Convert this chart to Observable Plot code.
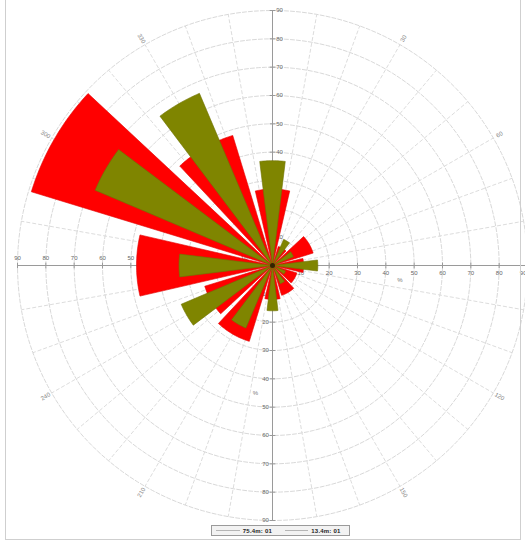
<!DOCTYPE html>
<html>
<head>
<meta charset="utf-8">
<script src="https://cdn.jsdelivr.net/npm/d3@7"></script>
<script src="https://cdn.jsdelivr.net/npm/@observablehq/plot@0.6"></script>
<style>
  body { margin: 0; background: #fff; font-family: "Liberation Sans", Arial, sans-serif; }
  #frame { position: relative; width: 525px; height: 542px; overflow: hidden; }
  #chart { position: absolute; left: 0; top: 0; }
  #border { position: absolute; left: 5px; top: -2px; width: 516px; height: 542px; border: 1px solid #cfcfcf; box-sizing: border-box; pointer-events: none; }
  #legend { position: absolute; left: 211px; top: 525px; width: 139px; height: 11px; border: 1px solid #9a9a9a; background: #f2f2f2; box-sizing: border-box; display: flex; align-items: center; font-size: 6px; color: #222; }
  #legend .sw { display: inline-block; width: 24px; height: 0; border-top: 1px solid #b5b5b5; margin: 0 3px 0 4px; }
  #legend .lb { display: inline-block; width: 38px; font-weight: bold; letter-spacing: 0.2px; }
</style>
</head>
<body>
<div id="frame">
  <div id="chart"></div>
  <div id="border"></div>
  <div id="legend"></div>
</div>
<script>
// Petal directions (degrees clockwise from north), one petal every 30°
const directions = [0, 30, 60, 90, 120, 150, 180, 210, 240, 270, 300, 330];
// Petal lengths for the two data sets
const seriesRed   = [27, 7, 15, 11, 9, 11, 12, 28, 25, 48, 89, 48];
const seriesOlive = [37, 10, 8, 16, 5, 7, 16, 24, 35, 33, 68, 66];
// Radial rings and their labels
const ringValues = [10, 20, 30, 40, 50, 60, 70, 80, 90];
// Compass labels around the outer ring
const angleLabels = [30, 60, 120, 150, 210, 240, 300, 330];
// Legend entries
const legendNames = ["75.4m: 01", "13.4m: 01"];

const RMAX = 90;
const rad = d => d * Math.PI / 180;
const px = (r, a) => r * Math.sin(rad(a));
const py = (r, a) => r * Math.cos(rad(a));

// Build a wedge outline (center -> arc -> center) for each petal
function wedges(values, halfWidth, tag) {
  const pts = [];
  directions.forEach((dir, i) => {
    const v = values[i];
    const id = tag + dir;
    pts.push({id, x: 0, y: 0});
    for (let a = dir - halfWidth; a <= dir + halfWidth + 1e-9; a += 1) {
      pts.push({id, x: px(v, a), y: py(v, a)});
    }
    pts.push({id, x: 0, y: 0});
  });
  return pts;
}

// Concentric grid rings
const ringPts = [];
ringValues.forEach(r => {
  for (let a = 0; a <= 360; a += 2) ringPts.push({r, x: px(r, a), y: py(r, a)});
});
// Radial spokes every 10°
const spokes = d3.range(0, 360, 10).filter(a => a % 90 !== 0);

const redPts = wedges(seriesRed, 13, "r");
const olivePts = wedges(seriesOlive, 7, "o");

const innerRings = ringValues.slice(0, -1);
const outerRing = ringValues[ringValues.length - 1];

const font = "Liberation Sans, Arial, sans-serif";

const chart = Plot.plot({
  width: 525,
  height: 522,
  margin: 0,
  style: { background: "transparent", fontFamily: font },
  x: { type: "linear", domain: [-RMAX, RMAX], range: [17, 527], axis: null },
  y: { type: "linear", domain: [-RMAX, RMAX], range: [520, 10], axis: null },
  marks: [
    // grid
    Plot.line(ringPts, { x: "x", y: "y", z: "r", stroke: "#d4d4d4", strokeWidth: 0.9, strokeDasharray: "4,2" }),
    Plot.link(spokes, {
      x1: 0, y1: 0,
      x2: a => px(RMAX, a), y2: a => py(RMAX, a),
      stroke: "#d8d8d8", strokeWidth: 0.9, strokeDasharray: "4,2"
    }),
    // axes through the center
    Plot.ruleY([0], { x1: -RMAX, x2: RMAX, stroke: "#9a9a9a", strokeWidth: 1 }),
    Plot.ruleX([0], { y1: -RMAX, y2: RMAX, stroke: "#9a9a9a", strokeWidth: 1 }),
    Plot.link(ringValues.flatMap(r => [r, -r]), { x1: d => d, x2: d => d, y1: -1, y2: 1, stroke: "#9a9a9a" }),
    Plot.link(ringValues.flatMap(r => [r, -r]), { y1: d => d, y2: d => d, x1: -1, x2: 1, stroke: "#9a9a9a" }),
    // axis labels
    Plot.text(innerRings, { x: d => d, y: 0, text: d => String(d), dy: 8, fontSize: 6, fill: "#666" }),
    Plot.text([outerRing], { x: d => d, y: 0, text: d => String(d), dy: 8, dx: -1, textAnchor: "end", fontSize: 6, fill: "#666" }),
    Plot.text(ringValues, { x: d => -d, y: 0, text: d => String(d), dy: -7, fontSize: 6, fill: "#666" }),
    Plot.text(ringValues, { x: 0, y: d => d, text: d => String(d), dx: 7, fontSize: 6, fill: "#666" }),
    Plot.text(ringValues, { x: 0, y: d => -d, text: d => String(d), dx: -7, fontSize: 6, fill: "#666" }),
    Plot.text(["%"], { x: 45, y: -5, text: d => d, fontSize: 6, fill: "#777" }),
    Plot.text(["%"], { x: -6, y: -45, text: d => d, fontSize: 6, fill: "#777" }),
    // compass labels, set along the radial direction
    Plot.text(angleLabels, {
      x: a => px(92.5, a), y: a => py(92.5, a),
      text: a => String(a),
      rotate: a => (a < 180 ? a - 90 : a + 90),
      fontSize: 6, fill: "#888"
    }),
    // petals
    Plot.line(redPts, { x: "x", y: "y", z: "id", fill: "#ff0000", stroke: "#e00000", strokeWidth: 0.6, curve: "linear" }),
    Plot.line(olivePts, { x: "x", y: "y", z: "id", fill: "#7f8500", stroke: "#6e7200", strokeWidth: 0.6, curve: "linear" }),
    Plot.dot([0], { x: 0, y: 0, r: 2.5, fill: "#332200" })
  ]
});
document.getElementById("chart").appendChild(chart);

// Legend below the plot
const legend = document.getElementById("legend");
legendNames.forEach(name => {
  const sw = document.createElement("span");
  sw.className = "sw";
  const lb = document.createElement("span");
  lb.className = "lb";
  lb.textContent = name;
  legend.appendChild(sw);
  legend.appendChild(lb);
});
</script>
</body>
</html>
